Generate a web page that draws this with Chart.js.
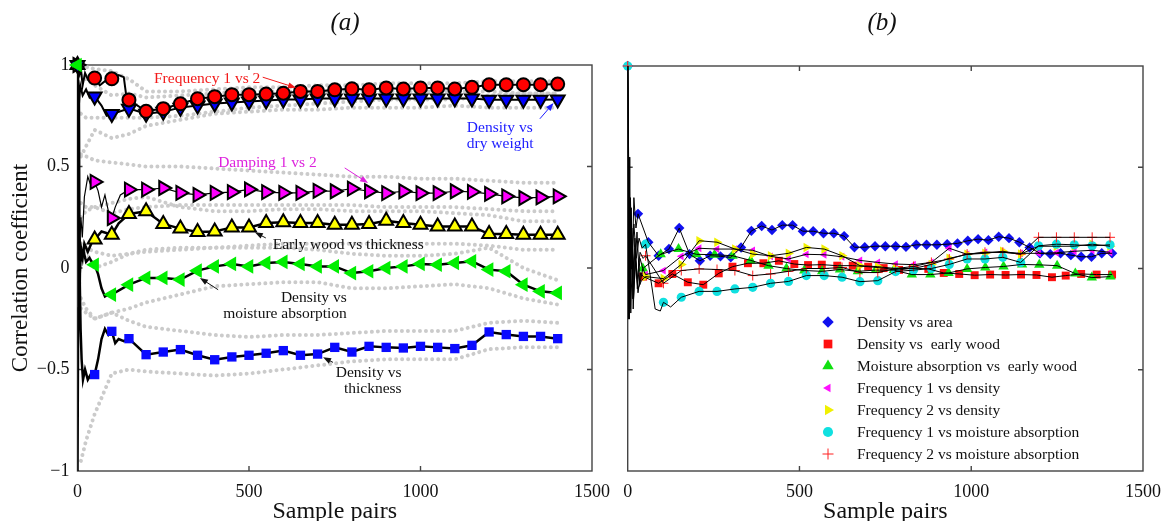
<!DOCTYPE html>
<html>
<head>
<meta charset="utf-8">
<script src="https://cdn.jsdelivr.net/npm/chart.js@4.4.0/dist/chart.umd.min.js"></script>
<style>
  body { margin: 0; background: #fff; }
  #wrap { position: relative; width: 1165px; height: 521px; }
  canvas { position: absolute; top: 0; }
  #ca { left: 0; }
  #cb { left: 610px; }
</style>
</head>
<body>
<div id="wrap">
  <canvas id="ca" width="610" height="521"></canvas>
  <canvas id="cb" width="555" height="521"></canvas>
</div>
<script>
// ---------- axes ----------
const xTicks = [0, 500, 1000, 1500];
const xTickLabels = ['0', '500', '1000', '1500'];
const yTicks = [-1, -0.5, 0, 0.5, 1];
const yTickLabels = ['\u22121', '\u22120.5', '0', '0.5', '1'];

// ---------- panel (a): markers every 50 sample pairs ----------
const markX = [0, 50, 100, 150, 200, 250, 300, 350, 400, 450, 500, 550, 600, 650, 700,
  750, 800, 850, 900, 950, 1000, 1050, 1100, 1150, 1200, 1250, 1300, 1350, 1400];
const freq12 = [null, 0.936, 0.932, 0.828, 0.772, 0.785, 0.809, 0.834, 0.844, 0.854, 0.854, 0.857, 0.861, 0.87, 0.87,
  0.878, 0.883, 0.878, 0.887, 0.882, 0.887, 0.887, 0.882, 0.89, 0.903, 0.903, 0.903, 0.903, 0.906];
const densDry = [1, 0.845, 0.759, 0.785, 0.76, 0.77, 0.79, 0.8, 0.81, 0.815, 0.82, 0.825, 0.83, 0.83, 0.835,
  0.835, 0.835, 0.835, 0.835, 0.835, 0.835, 0.835, 0.835, 0.835, 0.829, 0.829, 0.829, 0.829, 0.83];
const damp12 = [1, 0.424, 0.246, 0.386, 0.386, 0.394, 0.37, 0.36, 0.37, 0.374, 0.387, 0.374, 0.37, 0.37, 0.38,
  0.378, 0.391, 0.378, 0.369, 0.378, 0.369, 0.369, 0.378, 0.375, 0.365, 0.353, 0.345, 0.348, 0.353];
const earlyThick = [1, 0.14, 0.164, 0.266, 0.279, 0.217, 0.194, 0.177, 0.18, 0.2, 0.2, 0.222, 0.225, 0.222, 0.222,
  0.213, 0.213, 0.217, 0.233, 0.222, 0.213, 0.205, 0.205, 0.205, 0.167, 0.167, 0.164, 0.164, 0.164];
const densMoist = [1, 0.016, -0.131, -0.082, -0.049, -0.049, -0.057, -0.013, 0.008, 0.02, 0.008, 0.025, 0.03, 0.02, 0.008,
  0.008, -0.025, -0.016, 0.0, 0.008, 0.02, 0.016, 0.025, 0.033, -0.008, -0.016, -0.082, -0.115, -0.123];
const densThick = [null, -0.525, -0.312, -0.348, -0.427, -0.414, -0.402, -0.43, -0.452, -0.438, -0.43, -0.42, -0.407, -0.43, -0.424,
  -0.391, -0.414, -0.386, -0.391, -0.394, -0.386, -0.391, -0.397, -0.381, -0.315, -0.328, -0.337, -0.337, -0.348];

// running correlation at the very start (few sample pairs)
const freq12Nx = [0, 5, 10, 15, 22, 30, 40, 65, 80, 120, 135, 142];
const freq12Ny = [1, 0.95, 0.98, 0.9, 0.96, 0.93, 0.95, 0.9, 0.92, 0.95, 0.94, 0.85];
const densDryNx = [4, 8, 15, 25, 35, 45, 70, 85];
const densDryNy = [0.8, 0.9, 0.85, 0.88, 0.84, 0.86, 0.8, 0.75];
const damp12Nx = [3, 6, 10, 14, 20, 30, 40, 60, 70, 80, 90, 110, 125];
const damp12Ny = [0.5, 0.1, 0.25, 0.15, 0.35, 0.45, 0.4, 0.38, 0.3, 0.36, 0.28, 0.3, 0.36];
const earlyNx = [3, 6, 10, 15, 20, 30, 40, 70, 120];
const earlyNy = [0.2, -0.05, 0.1, 0.05, 0.12, 0.08, 0.12, 0.18, 0.22];
const moistNx = [2, 5, 8, 12, 18, 25, 35, 45, 60, 70, 80, 90];
const moistNy = [0.3, -0.3, 0.1, 0.05, 0.08, 0.03, 0.05, 0.02, -0.03, -0.1, -0.14, -0.13];
const thickNx = [0, 2, 4, 6, 9, 12, 16, 22, 30, 40, 60, 70, 80, 90, 110, 120, 135];
const thickNy = [-1, -0.2, 0.9, 0.0, -0.3, -0.45, -0.55, -0.5, -0.55, -0.52, -0.45, -0.35, -0.3, -0.33, -0.37, -0.35, -0.36];

// confidence bands (grey dots)
const bandX = [10, 25, 50, 100, 150, 200, 300, 400, 500, 600, 700, 800, 900, 1000, 1100, 1200, 1300, 1400];
const freq12Up = [0.99, 0.99, 0.98, 0.97, 0.93, 0.87, 0.87, 0.88, 0.89, 0.89, 0.9, 0.9, 0.91, 0.91, 0.91, 0.92, 0.92, 0.92];
const freq12Lo = [0.76, 0.74, 0.74, 0.74, 0.74, 0.74, 0.75, 0.77, 0.79, 0.8, 0.81, 0.82, 0.83, 0.83, 0.83, 0.85, 0.86, 0.86];
const densDryUp = [0.95, 0.93, 0.9, 0.85, 0.86, 0.84, 0.85, 0.86, 0.87, 0.87, 0.87, 0.87, 0.87, 0.87, 0.87, 0.87, 0.86, 0.86];
const densDryLo = [0.55, 0.6, 0.68, 0.64, 0.66, 0.7, 0.73, 0.76, 0.77, 0.78, 0.78, 0.79, 0.79, 0.79, 0.8, 0.79, 0.79, 0.79];
const damp12Up = [0.56, 0.55, 0.53, 0.52, 0.51, 0.5, 0.5, 0.49, 0.48, 0.47, 0.46, 0.45, 0.45, 0.44, 0.44, 0.43, 0.42, 0.42];
const damp12Lo = [0.32, 0.3, 0.3, 0.27, 0.29, 0.3, 0.31, 0.31, 0.31, 0.31, 0.31, 0.31, 0.3, 0.3, 0.3, 0.29, 0.28, 0.28];
const earlyUp = [0.25, 0.28, 0.3, 0.32, 0.34, 0.35, 0.3, 0.28, 0.28, 0.29, 0.29, 0.28, 0.28, 0.28, 0.27, 0.26, 0.23, 0.23];
const earlyLo = [0.1, 0.08, 0.0, 0.03, 0.07, 0.09, 0.1, 0.1, 0.11, 0.12, 0.12, 0.12, 0.12, 0.12, 0.12, 0.11, 0.09, 0.09];
const moistUp = [0.12, 0.1, 0.08, 0.06, 0.07, 0.08, 0.09, 0.1, 0.1, 0.1, 0.09, 0.07, 0.06, 0.06, 0.07, 0.1, 0.0, -0.06];
const moistLo = [-0.2, -0.22, -0.25, -0.22, -0.2, -0.17, -0.13, -0.09, -0.08, -0.07, -0.07, -0.1, -0.1, -0.09, -0.08, -0.1, -0.15, -0.18];
const thickUp = [-0.15, -0.2, -0.25, -0.22, -0.26, -0.29, -0.31, -0.33, -0.34, -0.33, -0.33, -0.32, -0.31, -0.31, -0.31, -0.27, -0.26, -0.27];
const thickLo = [-0.95, -0.85, -0.72, -0.52, -0.5, -0.51, -0.52, -0.53, -0.52, -0.5, -0.48, -0.46, -0.45, -0.45, -0.45, -0.4, -0.39, -0.39];

// ---------- panel (b) ----------
const legendLabels = ['Density vs area', 'Density vs  early wood', 'Moisture absorption vs  early wood',
  'Frequency 1 vs density', 'Frequency 2 vs density', 'Frequency 1 vs moisture absorption',
  'Frequency 2 vs moisture absorption'];

const areaX = [0, 30, 60, 90, 120, 150, 180, 210, 240, 270, 300, 330, 360, 390, 420, 450, 480, 510, 540, 570, 600,
  630, 660, 690, 720, 750, 780, 810, 840, 870, 900, 930, 960, 990, 1020, 1050, 1080, 1110, 1140, 1170, 1200,
  1230, 1260, 1290, 1320, 1350, 1380, 1410];
const areaY = [1, 0.27, 0.13, 0.063, 0.096, 0.2, 0.071, 0.038, 0.063, 0.06, 0.055, 0.104, 0.186, 0.21, 0.19, 0.214, 0.214, 0.184, 0.184, 0.174, 0.174,
  0.16, 0.105, 0.105, 0.11, 0.11, 0.11, 0.107, 0.117, 0.117, 0.117, 0.12, 0.124, 0.137, 0.145, 0.14, 0.157, 0.15, 0.13, 0.104, 0.075,
  0.071, 0.075, 0.066, 0.058, 0.058, 0.075, 0.075];
const woodX = [45, 90, 130, 175, 220, 265, 305, 350, 395, 440, 485, 525, 565, 610, 655, 700, 745, 790, 830, 875, 920,
  965, 1010, 1055, 1100, 1145, 1190, 1235, 1275, 1320, 1365, 1410];
const woodY = [-0.04, -0.073, -0.027, -0.068, -0.08, -0.024, 0.009, 0.026, 0.026, 0.038, 0.022, 0.017, 0.019, 0.014, 0.014, 0.009, 0.002, -0.007, 0.002, -0.002, -0.022,
  -0.027, -0.033, -0.03, -0.032, -0.03, -0.032, -0.043, -0.035, -0.027, -0.03, -0.03];
const moistWoodX = [44, 96, 148, 200, 253, 305, 358, 410, 462, 514, 566, 618, 670, 722, 775, 827, 881, 934, 988, 1041,
  1094, 1148, 1198, 1250, 1303, 1351, 1405];
const moistWoodY = [0.0, 0.07, 0.096, 0.07, 0.068, 0.063, 0.04, 0.014, 0.0, -0.01, -0.014, -0.005, -0.014, -0.008, -0.008, -0.03, -0.03, -0.022, -0.002, 0.005,
  0.01, 0.02, 0.018, 0.014, -0.025, -0.045, -0.04];
const freqDensX = [52, 104, 156, 208, 260, 312, 364, 416, 468, 520, 572, 624, 676, 728, 780, 832, 884, 936, 988, 1040,
  1092, 1144, 1196, 1248, 1300, 1352, 1404];
const f1DensY = [-0.03, -0.01, 0.06, 0.1, 0.096, 0.096, 0.09, 0.06, 0.047, 0.07, 0.068, 0.058, 0.04, 0.03, 0.022, 0.019, 0.03, 0.1, 0.07, 0.08,
  0.08, 0.075, 0.075, 0.078, 0.085, 0.09, 0.08];
const f2DensY = [-0.04, -0.05, 0.02, 0.137, 0.13, 0.096, 0.071, 0.063, 0.075, 0.104, 0.096, 0.063, 0.014, 0.009, 0.0, 0.0, 0.02, 0.05, 0.07, 0.075,
  0.085, 0.071, 0.11, 0.11, 0.11, 0.12, 0.11];
const freqMoistX = [0, 52, 104, 156, 208, 260, 312, 364, 416, 468, 520, 572, 624, 676, 728, 780, 832, 884, 936, 988,
  1040, 1092, 1144, 1196, 1248, 1300, 1352, 1404];
const f1MoistY = [1, 0.12, -0.167, -0.142, -0.113, -0.113, -0.101, -0.093, -0.073, -0.064, -0.035, -0.035, -0.043, -0.065, -0.06, -0.015, -0.008, 0.0, 0.02, 0.047,
  0.047, 0.055, 0.03, 0.112, 0.12, 0.117, 0.112, 0.117];
const f2MoistY = [1, 0.063, -0.073, -0.01, -0.002, -0.005, -0.01, -0.035, -0.027, -0.014, 0.0, 0.0, 0.005, -0.02, -0.02, 0.0, 0.01, 0.03, 0.047, 0.071,
  0.08, 0.08, 0.071, 0.154, 0.154, 0.154, 0.154, 0.154];

const areaNx = [0, 2, 4, 6, 9, 13, 18, 24];
const areaNy = [1, 0.15, 0.55, -0.2, 0.3, 0.0, 0.35, 0.2];
const woodNx = [0, 2, 5, 8, 12, 17, 23, 30, 38];
const woodNy = [1, -0.25, 0.45, -0.1, 0.2, -0.15, 0.05, -0.12, -0.02];
const moistWoodNx = [0, 3, 6, 10, 15, 21, 28, 36];
const moistWoodNy = [1, 0.4, -0.2, 0.25, -0.05, 0.15, -0.1, 0.05];
const f1DensNx = [0, 2, 5, 9, 14, 20, 27, 35, 44];
const f1DensNy = [1, -0.1, 0.3, -0.22, 0.1, -0.05, 0.18, -0.08, 0.0];
const f2DensNx = [0, 3, 7, 11, 16, 22, 30, 40];
const f2DensNy = [1, 0.5, -0.15, 0.2, -0.2, 0.05, -0.1, -0.06];
const f1MoistNx = [2, 5, 8, 12, 18, 25, 33, 42, 80, 95, 125];
const f1MoistNy = [0.55, -0.25, 0.35, 0.0, 0.22, 0.05, 0.15, 0.1, -0.2, -0.21, -0.19];
const f2MoistNx = [3, 6, 10, 15, 21, 28, 36, 45];
const f2MoistNy = [0.2, -0.1, 0.3, -0.15, 0.1, -0.05, 0.08, 0.05];

// ---------- helpers ----------
const serif = "'Liberation Serif', 'Times New Roman', serif";
Chart.defaults.font.family = serif;
Chart.defaults.color = '#111';

function pts(xs, ys) {
  return xs.map((x, i) => ({x: x, y: ys[i]})).filter(p => p.y !== null);
}
function trace(nx, ny, xs, ys) {
  return pts(nx, ny).concat(pts(xs, ys)).sort((a, b) => a.x - b.x);
}
function markerSet(data, st, order) {
  return Object.assign({data: data, showLine: false, clip: false, order: order,
    pointBorderWidth: 0, pointHoverRadius: 0}, st);
}
function lineSet(data, width, order) {
  return {data: data, borderColor: '#000', borderWidth: width, pointRadius: 0, tension: 0, order: order};
}
function bandSet(data) {
  return {data: data, borderColor: '#cbcbcb', borderWidth: 4, borderDash: [0.01, 6],
    borderCapStyle: 'round', pointRadius: 0, tension: 0, order: 40};
}

function makeScales(showY, yWidth) {
  return {
    x: {
      type: 'linear', min: 0, max: 1500,
      afterBuildTicks: s => { s.ticks = xTicks.map(v => ({value: v})); },
      afterFit: s => { s.height = 50; s.paddingLeft = 0; s.paddingRight = 0; },
      grid: {display: false, drawTicks: false},
      border: {display: false},
      ticks: {autoSkip: false, maxRotation: 0, padding: 10, font: {size: 18}, color: '#111',
        callback: v => xTickLabels[xTicks.indexOf(v)]},
      title: {display: true, text: 'Sample pairs', color: '#111', font: {size: 24, lineHeight: 0.8}, padding: 0}
    },
    y: {
      type: 'linear', min: -1, max: 1,
      afterBuildTicks: s => { s.ticks = yTicks.map(v => ({value: v})); },
      afterFit: s => { s.width = yWidth; s.paddingTop = 0; s.paddingBottom = 0; },
      grid: {display: false, drawTicks: false},
      border: {display: false},
      ticks: {display: showY, autoSkip: false, padding: 8, font: {size: 18}, color: '#111',
        callback: v => yTickLabels[yTicks.indexOf(v)]},
      title: {display: showY, text: 'Correlation coefficient', color: '#111',
        font: {size: 23, lineHeight: 1}, padding: {top: 9, bottom: 0}}
    }
  };
}

// frame with inward ticks, like the original axes
const framePlugin = {
  id: 'frame',
  beforeDatasetsDraw(chart) {
    const {ctx, chartArea: a} = chart;
    const sx = chart.scales.x, sy = chart.scales.y;
    ctx.save();
    ctx.strokeStyle = '#444';
    ctx.lineWidth = 1.4;
    ctx.strokeRect(a.left, a.top, a.right - a.left, a.bottom - a.top);
    ctx.beginPath();
    xTicks.slice(1, -1).forEach(v => {
      const p = sx.getPixelForValue(v);
      ctx.moveTo(p, a.bottom); ctx.lineTo(p, a.bottom - 5);
      ctx.moveTo(p, a.top); ctx.lineTo(p, a.top + 5);
    });
    yTicks.slice(1, -1).forEach(v => {
      const p = sy.getPixelForValue(v);
      ctx.moveTo(a.left, p); ctx.lineTo(a.left + 5, p);
      ctx.moveTo(a.right, p); ctx.lineTo(a.right - 5, p);
    });
    ctx.stroke();
    ctx.restore();
  }
};

const panelTitle = {
  id: 'panelTitle',
  afterDraw(chart, args, opts) {
    const ctx = chart.ctx;
    ctx.save();
    ctx.font = 'italic 25px ' + serif;
    ctx.fillStyle = '#111';
    ctx.textAlign = 'center';
    ctx.textBaseline = 'middle';
    ctx.fillText(opts.text, opts.x, 23);
    ctx.restore();
  }
};

function arrow(ctx, x1, y1, x2, y2, color) {
  const ang = Math.atan2(y2 - y1, x2 - x1), L = 8, W = 3;
  ctx.strokeStyle = color; ctx.fillStyle = color; ctx.lineWidth = 1;
  ctx.beginPath();
  ctx.moveTo(x1, y1);
  ctx.lineTo(x2 - L * 0.7 * Math.cos(ang), y2 - L * 0.7 * Math.sin(ang));
  ctx.stroke();
  ctx.beginPath();
  ctx.moveTo(x2, y2);
  ctx.lineTo(x2 - L * Math.cos(ang) + W * Math.sin(ang), y2 - L * Math.sin(ang) - W * Math.cos(ang));
  ctx.lineTo(x2 - L * Math.cos(ang) - W * Math.sin(ang), y2 - L * Math.sin(ang) + W * Math.cos(ang));
  ctx.closePath();
  ctx.fill();
}

// labels in panel (a), placed in data coordinates
const notesA = [
  {lines: ['Frequency 1 vs 2'], color: '#f21a1a', align: 'left', at: [223, 0.931], from: [540, 0.94], to: [637, 0.888]},
  {lines: ['Density vs', 'dry weight'], color: '#1c1cff', align: 'left', at: [1135, 0.69], from: [1348, 0.735], to: [1388, 0.813]},
  {lines: ['Damping 1 vs 2'], color: '#dd22dd', align: 'left', at: [410, 0.517], from: [779, 0.493], to: [847, 0.419]},
  {lines: ['Early wood vs thickness'], color: '#111', align: 'left', at: [569, 0.113], from: [549, 0.148], to: [517, 0.176]},
  {lines: ['Density vs', 'moisture absorption'], color: '#111', align: 'right', at: [785, -0.148], from: [410, -0.107], to: [357, -0.049]},
  {lines: ['Density vs', 'thickness'], color: '#111', align: 'right', at: [945, -0.517], from: [745, -0.465], to: [716, -0.44]}
];
const notesPlugin = {
  id: 'notes',
  afterDraw(chart) {
    const ctx = chart.ctx, sx = chart.scales.x, sy = chart.scales.y;
    ctx.save();
    ctx.font = '15.5px ' + serif;
    ctx.textBaseline = 'middle';
    notesA.forEach(n => {
      ctx.fillStyle = n.color;
      ctx.textAlign = n.align;
      const x = sx.getPixelForValue(n.at[0]), y = sy.getPixelForValue(n.at[1]);
      n.lines.forEach((t, i) => ctx.fillText(t, x, y + i * 15.5));
      arrow(ctx, sx.getPixelForValue(n.from[0]), sy.getPixelForValue(n.from[1]),
        sx.getPixelForValue(n.to[0]), sy.getPixelForValue(n.to[1]), n.color);
    });
    ctx.restore();
  }
};

// ---------- panel (a) ----------
const stRed = {pointStyle: 'circle', pointRadius: 6.5, pointBackgroundColor: '#ff0000', pointBorderColor: '#000', pointBorderWidth: 2};
const stDry = {pointStyle: 'triangle', pointRotation: 180, pointRadius: 8, pointBackgroundColor: '#0000ff', pointBorderColor: '#000', pointBorderWidth: 2};
const stDamp = {pointStyle: 'triangle', pointRotation: 90, pointRadius: 8, pointBackgroundColor: '#ff00ff', pointBorderColor: '#000', pointBorderWidth: 2};
const stEarly = {pointStyle: 'triangle', pointRadius: 8, pointBackgroundColor: '#ffff00', pointBorderColor: '#000', pointBorderWidth: 2};
const stMoist = {pointStyle: 'triangle', pointRotation: 270, pointRadius: 8.5, pointBackgroundColor: '#00ee00', pointBorderWidth: 0};
const stThick = {pointStyle: 'rect', pointRadius: 6.6, pointBackgroundColor: '#0a0aff', pointBorderWidth: 0};

const dataA = [
  [freq12Up, freq12Lo, densDryUp, densDryLo, damp12Up, damp12Lo, earlyUp, earlyLo, moistUp, moistLo, thickUp, thickLo]
    .map(b => bandSet(pts(bandX, b))),
  [
    lineSet(trace(thickNx, thickNy, markX, densThick), 2.5, 30),
    lineSet(trace(moistNx, moistNy, markX, densMoist), 2.5, 30),
    lineSet(trace(earlyNx, earlyNy, markX, earlyThick), 2.5, 30),
    lineSet(trace(damp12Nx, damp12Ny, markX, damp12), 1.2, 30),
    lineSet(trace(densDryNx, densDryNy, markX, densDry), 2, 30),
    lineSet(trace(freq12Nx, freq12Ny, markX, freq12), 2, 30)
  ],
  [
    markerSet(pts(markX, densThick), stThick, 20),
    markerSet(pts(markX, earlyThick), stEarly, 19),
    markerSet(pts(markX, damp12), stDamp, 18),
    markerSet(pts(markX, densDry), stDry, 17),
    markerSet(pts(markX, freq12), stRed, 16),
    markerSet(pts(markX, densMoist), stMoist, 15)
  ]
].flat();

new Chart(document.getElementById('ca'), {
  type: 'line',
  data: {datasets: dataA},
  options: {
    responsive: false, animation: false, devicePixelRatio: 1,
    layout: {padding: {left: 0, top: 65, right: 18, bottom: 0}},
    scales: makeScales(true, 77.5),
    plugins: {legend: {display: false}, tooltip: {enabled: false}, panelTitle: {text: '(a)', x: 345}}
  },
  plugins: [framePlugin, notesPlugin, panelTitle]
});

// ---------- panel (b) ----------
const stArea = {pointStyle: 'rectRot', pointRadius: 5.2, pointBackgroundColor: '#1010ee', pointBorderColor: '#1010ee', pointBorderWidth: 0};
const stWood = {pointStyle: 'rect', pointRadius: 5.6, pointBackgroundColor: '#ff1010', pointBorderColor: '#ff1010', pointBorderWidth: 0};
const stMoistWood = {pointStyle: 'triangle', pointRadius: 6, pointBackgroundColor: '#10e010', pointBorderColor: '#10e010', pointBorderWidth: 0};
const stF1Dens = {pointStyle: 'triangle', pointRotation: 270, pointRadius: 4.5, pointBackgroundColor: '#ff10ff', pointBorderColor: '#ff10ff', pointBorderWidth: 0};
const stF2Dens = {pointStyle: 'triangle', pointRotation: 90, pointRadius: 5.5, pointBackgroundColor: '#f0f000', pointBorderColor: '#f0f000', pointBorderWidth: 0};
const stF1Moist = {pointStyle: 'circle', pointRadius: 4.6, pointBackgroundColor: '#10e0e0', pointBorderColor: '#10e0e0', pointBorderWidth: 0};
const stF2Moist = {pointStyle: 'cross', pointRadius: 5, pointBackgroundColor: '#ff2020', pointBorderColor: '#ff2020', pointBorderWidth: 1};
const stylesB = [stArea, stWood, stMoistWood, stF1Dens, stF2Dens, stF1Moist, stF2Moist];

const dataB = [
  markerSet(pts(areaX, areaY), stArea, 30),
  markerSet(pts(woodX, woodY), stWood, 29),
  markerSet(pts(moistWoodX, moistWoodY), stMoistWood, 28),
  markerSet(pts(freqDensX, f1DensY), stF1Dens, 27),
  markerSet(pts(freqDensX, f2DensY), stF2Dens, 26),
  markerSet(pts(freqMoistX, f1MoistY), stF1Moist, 25),
  markerSet(pts(freqMoistX, f2MoistY), stF2Moist, 24),
  lineSet(trace(areaNx, areaNy, areaX, areaY), 1, 10),
  lineSet(trace(woodNx, woodNy, woodX, woodY), 1, 10),
  lineSet(trace(moistWoodNx, moistWoodNy, moistWoodX, moistWoodY), 1, 10),
  lineSet(trace(f1DensNx, f1DensNy, freqDensX, f1DensY), 1, 10),
  lineSet(trace(f2DensNx, f2DensNy, freqDensX, f2DensY), 1, 10),
  lineSet(trace(f1MoistNx, f1MoistNy, freqMoistX, f1MoistY), 1, 10),
  lineSet(trace(f2MoistNx, f2MoistNy, freqMoistX, f2MoistY), 1, 10)
];

const legendB = {
  id: 'legendB',
  afterDraw(chart) {
    const ctx = chart.ctx;
    ctx.save();
    ctx.font = '15.5px ' + serif;
    ctx.textBaseline = 'middle';
    ctx.textAlign = 'left';
    legendLabels.forEach((label, i) => {
      const st = stylesB[i], y = 322 + i * 22;
      if (Chart.helpers && Chart.helpers.drawPoint) {
        ctx.fillStyle = st.pointBackgroundColor;
        ctx.strokeStyle = st.pointBorderColor;
        ctx.lineWidth = st.pointBorderWidth;
        Chart.helpers.drawPoint(ctx, {pointStyle: st.pointStyle, radius: st.pointRadius * 1.1,
          rotation: st.pointRotation || 0, borderWidth: st.pointBorderWidth}, 218, y);
      }
      ctx.fillStyle = '#111';
      ctx.fillText(label, 247, y + 1);
    });
    ctx.restore();
  }
};

new Chart(document.getElementById('cb'), {
  type: 'line',
  data: {datasets: dataB},
  options: {
    responsive: false, animation: false, devicePixelRatio: 1,
    layout: {padding: {left: 0, top: 66, right: 22, bottom: 0}},
    scales: makeScales(false, 17.7),
    plugins: {legend: {display: false}, tooltip: {enabled: false}, panelTitle: {text: '(b)', x: 272}}
  },
  plugins: [framePlugin, legendB, panelTitle]
});
</script>
</body>
</html>
